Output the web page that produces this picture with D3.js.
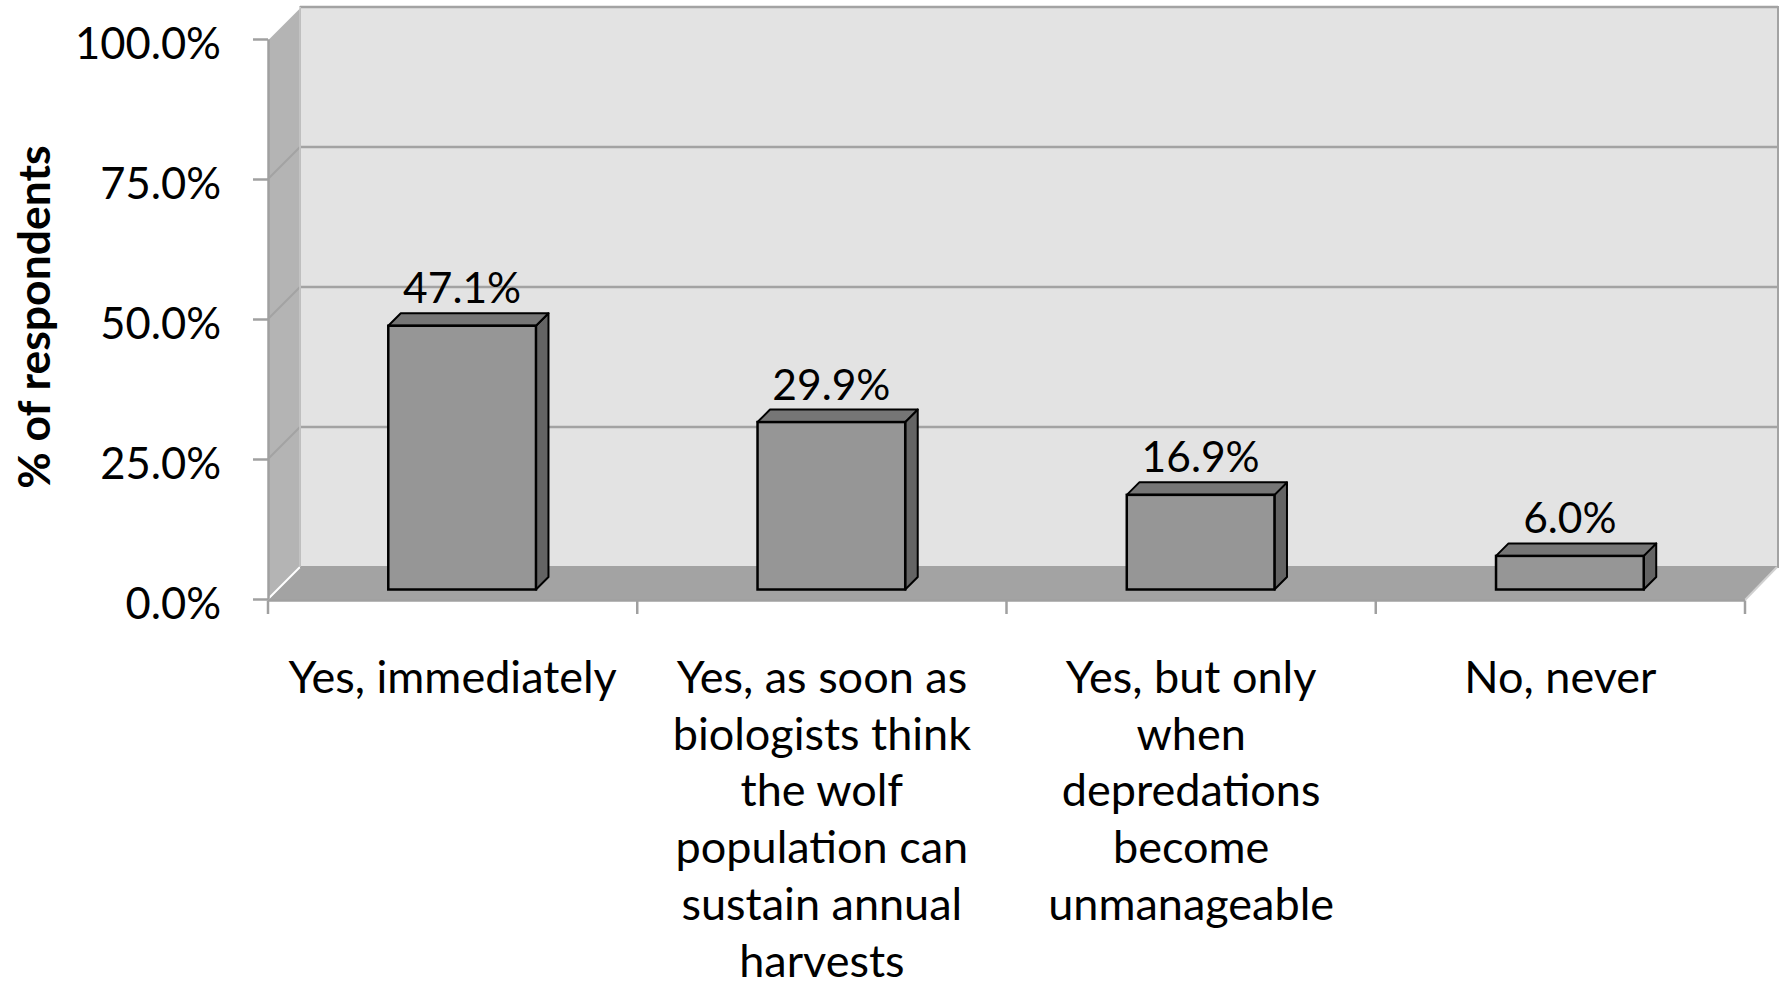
<!DOCTYPE html>
<html>
<head>
<meta charset="utf-8">
<script src="https://cdn.jsdelivr.net/npm/d3@7"></script>
<style>
  html, body { margin: 0; padding: 0; background: #ffffff; }
  svg { display: block; }
  text { font-family: Lato, "Noto Sans", sans-serif; fill: #000; }
</style>
</head>
<body>
<svg id="chart" width="1780" height="985"></svg>
<script>
// ---- data ----
const categories = [
  "Yes, immediately",
  "Yes, as soon as\nbiologists think\nthe wolf\npopulation can\nsustain annual\nharvests",
  "Yes, but only\nwhen\ndepredations\nbecome\nunmanageable",
  "No, never"
];
const values = [47.1, 29.9, 16.9, 6.0];
const valueLabels = ["47.1%", "29.9%", "16.9%", "6.0%"];
const yTicks = [0, 25, 50, 75, 100];
const yTickLabels = ["0.0%", "25.0%", "50.0%", "75.0%", "100.0%"];
const yTitle = "% of respondents";

// ---- layout ----
const svg = d3.select("#chart");
const X0 = 268, X1 = 1745;     // front plane x extent
const Y0 = 599, Y1 = 39;       // front plane y for 0 and 100
const D = 32;                  // wall depth offset (45deg)
const bd0 = 9.5, bdd = 12.5;   // bar front depth and bar depth

const x = d3.scaleBand().domain(categories).range([X0, X1])
  .paddingInner(0.6).paddingOuter(0.3);
const y = d3.scaleLinear().domain([0, 100]).range([Y0, Y1]);

const gridCol = "#a3a3a3";

// back wall
svg.append("rect")
  .attr("x", X0 + D).attr("y", y(100) - D)
  .attr("width", 1778 - (X0 + D)).attr("height", y(0) - y(100))
  .attr("fill", "#e3e3e3").attr("stroke", gridCol).attr("stroke-width", 2);

// side wall
svg.append("polygon")
  .attr("points", [[X0, y(100)], [X0 + D, y(100) - D], [X0 + D, y(0) - D], [X0, y(0)]].join(" "))
  .attr("fill", "#b4b4b4");

// floor
svg.append("polygon")
  .attr("points", [[X0, y(0) + 1], [X0 + D, y(0) - D], [X1 + D, y(0) - D], [X1, y(0) + 1]].join(" "))
  .attr("fill", "#a3a3a3");

// gridlines on back wall and side wall
const grid = svg.append("g");
yTicks.forEach(t => {
  if (t > 0) {
    grid.append("line")
      .attr("x1", X0 + D).attr("x2", 1778)
      .attr("y1", y(t) - D).attr("y2", y(t) - D)
      .attr("stroke", gridCol).attr("stroke-width", 2.5);
  }
  grid.append("line")
    .attr("x1", X0).attr("x2", X0 + D)
    .attr("y1", y(t)).attr("y2", y(t) - D)
    .attr("stroke", t === 0 || t === 100 ? "#ffffff" : gridCol)
    .attr("stroke-width", 2);
});
// floor back edge and right diagonal
grid.append("line").attr("x1", X0 + D).attr("x2", 1778)
  .attr("y1", y(0) - D).attr("y2", y(0) - D).attr("stroke", gridCol).attr("stroke-width", 2);
grid.append("line").attr("x1", X1).attr("x2", X1 + D)
  .attr("y1", y(0) + 1).attr("y2", y(0) - D).attr("stroke", "#d0d0d0").attr("stroke-width", 2);
// side wall back edge
grid.append("line").attr("x1", X0 + D).attr("x2", X0 + D)
  .attr("y1", y(100) - D).attr("y2", y(0) - D).attr("stroke", "#c8c8c8").attr("stroke-width", 1.5);

// y axis
const yAxis = svg.append("g")
  .attr("transform", `translate(${X0},0)`)
  .call(d3.axisLeft(y).tickValues(yTicks)
    .tickFormat((d, i) => yTickLabels[i])
    .tickSizeInner(15).tickSizeOuter(0).tickPadding(32));
yAxis.select(".domain").attr("stroke", "#a0a0a0").attr("stroke-width", 2.5);
yAxis.selectAll(".tick line").attr("stroke", "#a0a0a0").attr("stroke-width", 2.5);
yAxis.selectAll(".tick text")
  .attr("font-family", "Lato, 'Noto Sans', sans-serif")
  .attr("font-size", 43.5).attr("dy", "0.44em").attr("fill", "#000");

// x axis line & category ticks
const xAxis = svg.append("g");
xAxis.append("line").attr("x1", X0).attr("x2", X1)
  .attr("y1", y(0) + 1.5).attr("y2", y(0) + 1.5)
  .attr("stroke", "#a0a0a0").attr("stroke-width", 2.5);
d3.range(categories.length + 1).forEach(i => {
  const tx = x.range()[0] + i * x.step();
  xAxis.append("line").attr("x1", tx).attr("x2", tx)
    .attr("y1", y(0) + 1.5).attr("y2", y(0) + 15)
    .attr("stroke", "#a0a0a0").attr("stroke-width", 2.5);
});

// category labels
const lineH = 56.7;
const catG = svg.append("g");
categories.forEach(c => {
  const cx = x(c) + x.bandwidth() / 2;
  const t = catG.append("text")
    .attr("text-anchor", "middle")
    .attr("font-size", 45);
  c.split("\n").forEach((ln, j) => {
    t.append("tspan").attr("x", cx).attr("y", 693 + j * lineH).text(ln);
  });
});

// bars
const bars = svg.append("g");
categories.forEach((c, i) => {
  const v = values[i];
  const bx = x(c) + bd0;
  const bw = x.bandwidth();
  const by = y(v) - bd0;
  const bb = y(0) - bd0;
  // side
  bars.append("polygon")
    .attr("points", [[bx + bw, by], [bx + bw + bdd, by - bdd], [bx + bw + bdd, bb - bdd], [bx + bw, bb]].join(" "))
    .attr("fill", "#646464").attr("stroke", "#000").attr("stroke-width", 2).attr("stroke-linejoin", "round");
  // top
  bars.append("polygon")
    .attr("points", [[bx, by], [bx + bdd, by - bdd], [bx + bw + bdd, by - bdd], [bx + bw, by]].join(" "))
    .attr("fill", "#767676").attr("stroke", "#000").attr("stroke-width", 2).attr("stroke-linejoin", "round");
  // front
  bars.append("rect")
    .attr("x", bx).attr("y", by).attr("width", bw).attr("height", bb - by)
    .attr("fill", "#969696").attr("stroke", "#000").attr("stroke-width", 2.5);
  // value label
  bars.append("text")
    .attr("x", bx + bw / 2).attr("y", by - bdd - 10)
    .attr("text-anchor", "middle").attr("font-size", 42.5)
    .text(valueLabels[i]);
});

// y title
svg.append("text")
  .attr("transform", `translate(50,317) rotate(-90)`)
  .attr("text-anchor", "middle")
  .attr("font-size", 44.5).attr("font-weight", "bold")
  .text(yTitle);
</script>
</body>
</html>
